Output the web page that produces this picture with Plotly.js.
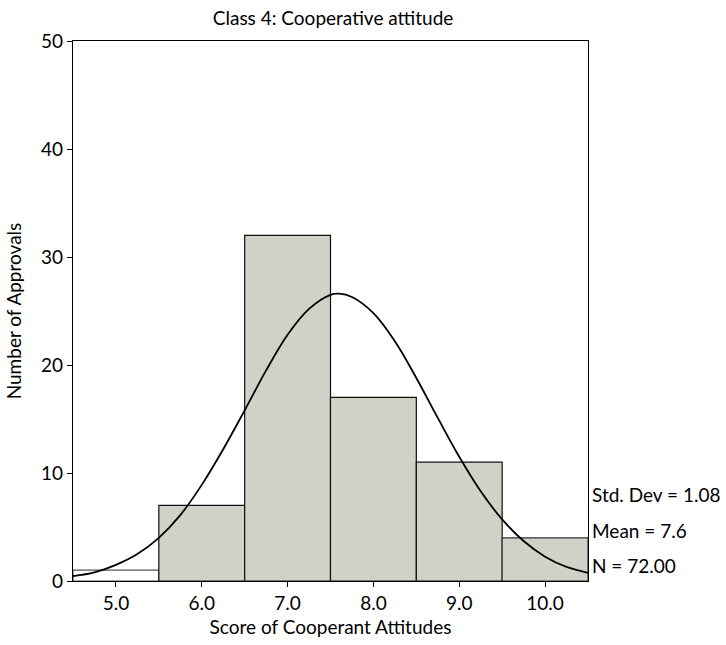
<!DOCTYPE html>
<html>
<head>
<meta charset="utf-8">
<script src="https://cdn.plot.ly/plotly-3.0.1.min.js"></script>
<style>html,body{margin:0;padding:0;background:#fff;}</style>
</head>
<body>
<div id="chart" style="width:726px;height:645px;"></div>
<script>
// Histogram bins (score) and counts
const scores = [5, 6, 7, 8, 9, 10];
const counts = [1, 7, 32, 17, 11, 4];
const barFill = ['#ffffff', '#d1d1c7', '#d1d1c7', '#d1d1c7', '#d1d1c7', '#d1d1c7'];
const barEdge = ['#555555', '#111111', '#111111', '#111111', '#111111', '#333333'];

// Normal curve points
const curveX = [4.5, 4.75, 5.0, 5.25, 5.5, 5.75, 6.0, 6.25, 6.5, 6.75, 7.0, 7.25, 7.5, 7.6, 7.75, 8.0, 8.25, 8.5, 8.75, 9.0, 9.25, 9.5, 9.75, 10.0, 10.25, 10.5];
const curveY = [0.45, 0.8, 1.5, 2.5, 4.0, 6.1, 8.9, 12.2, 15.8, 19.5, 22.8, 25.2, 26.5, 26.6, 26.3, 24.8, 22.2, 18.8, 15.1, 11.5, 8.3, 5.7, 3.7, 2.25, 1.3, 0.75];

const xTicks = [5, 6, 7, 8, 9, 10];
const xTickText = ['5.0', '6.0', '7.0', '8.0', '9.0', '10.0'];
const yTicks = [0, 10, 20, 30, 40, 50];

const statLabels = ['Std. Dev = 1.08', 'Mean = 7.6', 'N = 72.00'];
const statY = [8.0, 4.65, 1.4];

const font = 'Lato, "Open Sans", sans-serif';
const fs = 19;

const traces = [
  {
    type: 'bar', x: scores, y: counts, width: 1,
    marker: {color: barFill, line: {color: barEdge, width: 1.2}},
    hoverinfo: 'skip', showlegend: false
  },
  {
    type: 'scatter', mode: 'lines', x: curveX, y: curveY,
    line: {color: '#000', width: 1.8, shape: 'spline', smoothing: 1},
    hoverinfo: 'skip', showlegend: false
  }
];

const annotations = statLabels.map((t, i) => ({
  xref: 'paper', yref: 'y', x: 1, y: statY[i], xanchor: 'left', yanchor: 'middle',
  xshift: 2, text: t, showarrow: false, font: {family: font, size: fs, color: '#000'}
}));

const layout = {
  width: 726, height: 645,
  margin: {l: 73, r: 138, t: 41, b: 64},
  paper_bgcolor: '#fff', plot_bgcolor: '#fff',
  font: {family: font, color: '#000', size: fs},
  title: {text: 'Class 4: Cooperative attitude', xref: 'paper', x: 0.505, xanchor: 'center', yref: 'container', y: 0.972, yanchor: 'middle', font: {family: font, size: fs}},
  xaxis: {
    range: [4.5, 10.5], tickvals: xTicks, ticktext: xTickText,
    showline: true, linecolor: '#000', linewidth: 1.2, mirror: true,
    ticks: 'outside', ticklen: 5, tickcolor: '#000', showgrid: false, zeroline: false,
    tickfont: {family: font, size: fs},
    title: {text: 'Score of Cooperant Attitudes', font: {family: font, size: fs}, standoff: 7}
  },
  yaxis: {
    range: [0, 50], tickvals: yTicks,
    showline: true, linecolor: '#000', linewidth: 1.2, mirror: true,
    ticks: 'outside', ticklen: 5, tickcolor: '#000', showgrid: false, zeroline: false,
    tickfont: {family: font, size: fs},
    title: {text: 'Number of Approvals', font: {family: font, size: fs}, standoff: 14}
  },
  bargap: 0,
  annotations: annotations
};

Plotly.newPlot('chart', traces, layout, {displayModeBar: false, staticPlot: true});
</script>
</body>
</html>
